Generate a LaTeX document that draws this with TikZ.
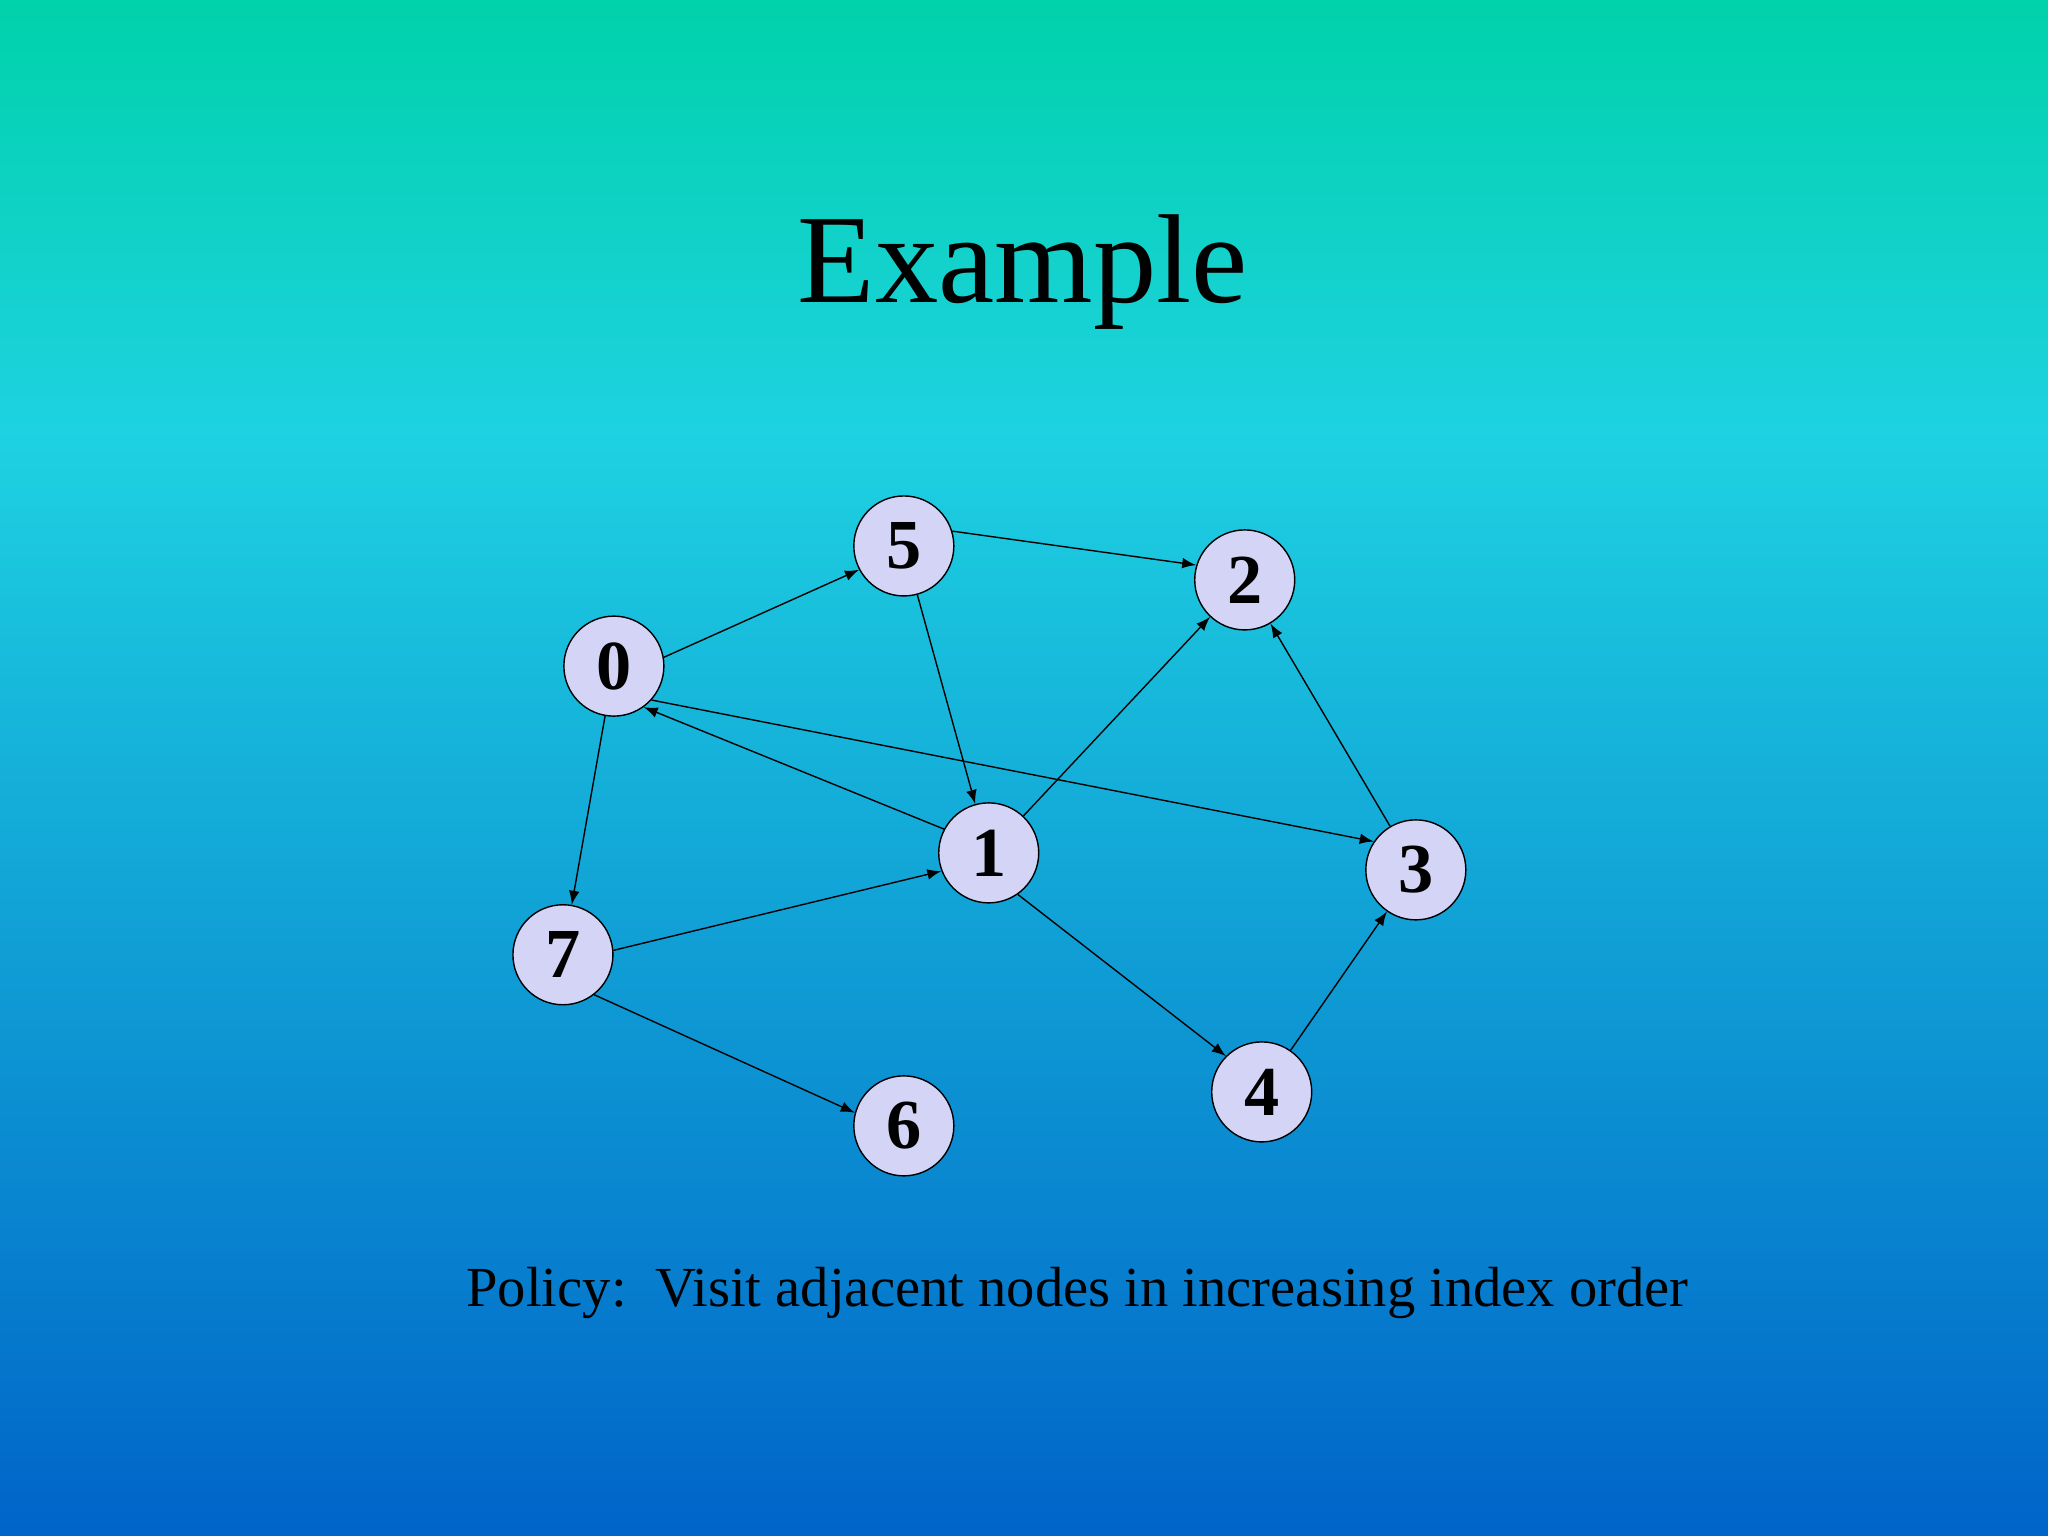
\documentclass[tikz,border=0pt]{standalone}
\usepackage{fontspec}
\setmainfont{Liberation Serif}
\begin{document}
\begin{tikzpicture}[x=0.013061cm,y=-0.013061cm,
  vtx/.style={circle,draw=black,thin,fill={rgb,255:red,212;green,212;blue,246},minimum size=1.0cm,inner sep=0pt,font=\fontsize{20}{20}\selectfont\bfseries},
  edge/.style={-latex,thin,black}]
\definecolor{topc}{RGB}{0,210,170}
\definecolor{midc}{RGB}{30,210,225}
\definecolor{botc}{RGB}{0,100,200}
\shade[top color=topc,bottom color=midc] (0,0) rectangle (1568,330);
\shade[top color=midc,bottom color=botc] (0,330) rectangle (1568,1176);
\useasboundingbox (0,0) rectangle (1568,1176);
\node[font=\fontsize{36}{36}\selectfont] (title) at (783,208) {Example};
\node[font=\fontsize{16.1}{16.1}\selectfont] (policy) at (825,990) {Policy:\ \ Visit adjacent nodes in increasing index order};
\node[vtx] (n5) at (692,418) {5};
\node[vtx] (n2) at (953,444) {2};
\node[vtx] (n0) at (470,510) {0};
\node[vtx] (n1) at (757,653) {1};
\node[vtx] (n3) at (1084,666) {3};
\node[vtx] (n7) at (431,731) {7};
\node[vtx] (n4) at (966,836) {4};
\node[vtx] (n6) at (692,862) {6};
\draw[edge] (n0.10) -- (n5.-152);
\draw[edge] (n5.17) -- (n2.163);
\draw[edge] (n5) -- (n1);
\draw[edge] (n0.-42) -- (n3.146);
\draw[edge] (n1.152) -- (n0.-54);
\draw[edge] (n1) -- (n2);
\draw[edge] (n3) -- (n2);
\draw[edge] (n0) -- (n7);
\draw[edge] (n7.5) -- (n1.-159);
\draw[edge] (n1.-55) -- (n4.135);
\draw[edge] (n4) -- (n3);
\draw[edge] (n7.-52) -- (n6.165);
\end{tikzpicture}
\end{document}
